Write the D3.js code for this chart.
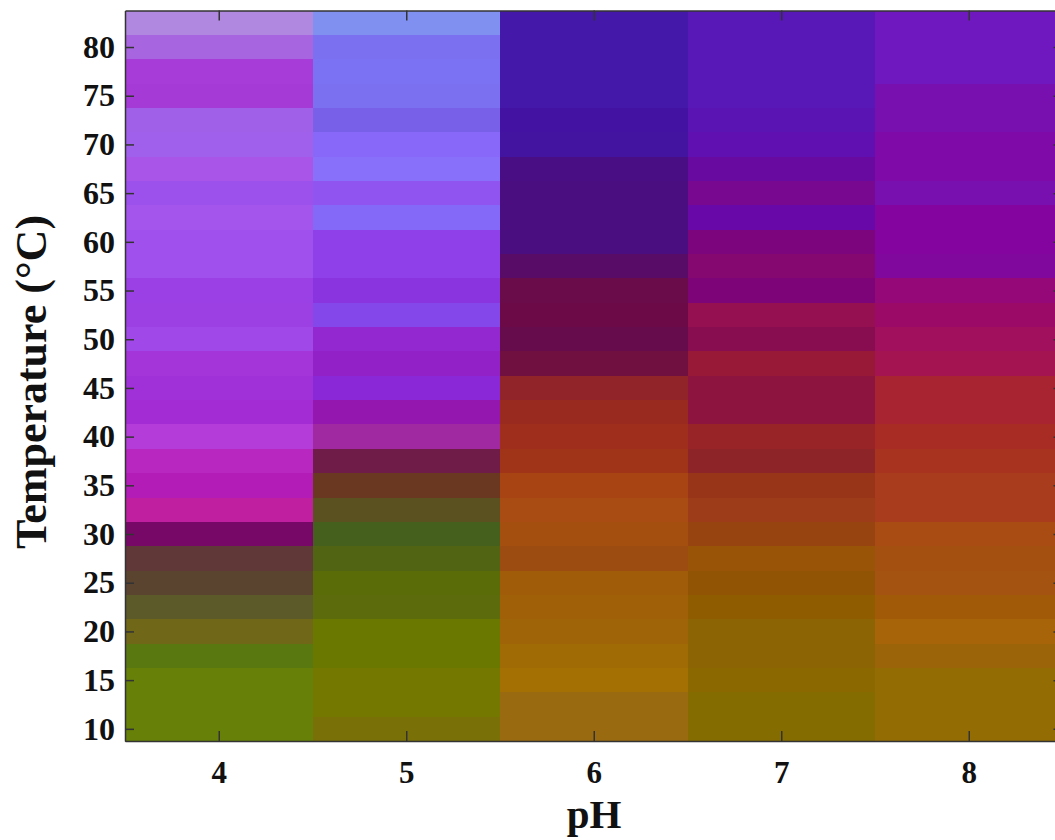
<!DOCTYPE html>
<html>
<head>
<meta charset="utf-8">
<script src="https://cdn.jsdelivr.net/npm/d3@7"></script>
<style>
  body { margin: 0; background: #fff; }
  text { font-family: "Liberation Serif", "Times New Roman", serif; font-weight: bold; fill: #111; }
</style>
</head>
<body>
<div id="chart"></div>
<script>
// pH columns and temperature rows (row centres, top to bottom)
var phLevels = [4, 5, 6, 7, 8];
var temps = [82.5, 80, 77.5, 75, 72.5, 70, 67.5, 65, 62.5, 60, 57.5, 55, 52.5, 50, 47.5,
             45, 42.5, 40, 37.5, 35, 32.5, 30, 27.5, 25, 22.5, 20, 17.5, 15, 12.5, 10];
var yTicks = [10, 15, 20, 25, 30, 35, 40, 45, 50, 55, 60, 65, 70, 75, 80];

// cell colours, one array per pH, same order as temps
var ph4Colors = ['#b088e0', '#a865e0', '#a83cd8', '#a63ad6', '#a060e8', '#a060ec', '#a855e8', '#9c50ec',
                 '#a455ec', '#a050ec', '#a050ec', '#9a40e4', '#9c40e4', '#a048e8', '#a435d8', '#a030d8',
                 '#a42cd4', '#b43cd8', '#b828c0', '#b41cb8', '#c020a0', '#780868', '#603838', '#5a4430',
                 '#5c5a28', '#706818', '#5a7810', '#668008', '#668008', '#668008'];
var ph5Colors = ['#8090f0', '#7a70f0', '#7a72f2', '#7a70f0', '#7860e8', '#8868f8', '#8870fa', '#9055f0',
                 '#8468f8', '#9040e8', '#9040e8', '#8a34e0', '#8448ea', '#9428d0', '#9222c8', '#8a28d8',
                 '#9418b0', '#a028a0', '#701c48', '#6a3820', '#5a5020', '#44601c', '#506414', '#5a6c08',
                 '#5c6c0c', '#6a7800', '#6a7800', '#747800', '#747800', '#7a7008'];
var ph6Colors = ['#4418a8', '#4418a8', '#4418a8', '#4418a8', '#4412a2', '#4214a0', '#4a0e84', '#4a0e80',
                 '#4a0e80', '#4a0e80', '#580c68', '#6a0c4a', '#6c0a48', '#660c4c', '#701040', '#902428',
                 '#982a20', '#a02e1c', '#a03418', '#a84414', '#a84c14', '#a44e10', '#9c4c10', '#a05c08',
                 '#a06008', '#a06408', '#a06a04', '#a47004', '#9a6a10', '#9a6a10'];
var ph7Colors = ['#5818b8', '#5818b8', '#5818b8', '#5818b8', '#5a14b4', '#6010b0', '#680aa0', '#780890',
                 '#6808a8', '#7c047c', '#840870', '#7c0478', '#941050', '#880c50', '#981838', '#8e1440',
                 '#8e1440', '#982428', '#8c2428', '#983418', '#9c3c18', '#984410', '#9a5408', '#905404',
                 '#905c00', '#8c6404', '#8c6404', '#8c6800', '#846c00', '#846c00'];
var ph8Colors = ['#7018c0', '#7018c0', '#7018c0', '#7810b0', '#7810b0', '#800aa8', '#800aa8', '#7810b0',
                 '#8404a0', '#8404a0', '#80089c', '#940878', '#9c0a68', '#a0105c', '#a41450', '#a82430',
                 '#a82430', '#a82c24', '#a83420', '#a83c1c', '#a83c1c', '#a84c14', '#a45010', '#a45410',
                 '#a05a08', '#a86408', '#9c6408', '#946c04', '#946c04', '#946c04'];
var columnColors = [ph4Colors, ph5Colors, ph6Colors, ph7Colors, ph8Colors];

var width = 1055, height = 840;
// plot box (note: "top" is taken by window.top)
var plotLeft = 125, plotRight = 1062.5, plotTop = 10.5, plotBottom = 741;

var x = d3.scaleLinear().domain([3.5, 8.5]).range([plotLeft, plotRight]);
var y = d3.scaleLinear().domain([8.75, 83.75]).range([plotBottom, plotTop]);

var svg = d3.select('#chart')
  .append('svg')
  .attr('width', width)
  .attr('height', height);

// flatten into cells
var cells = [];
phLevels.forEach(function(p, i) {
  temps.forEach(function(t, j) {
    cells.push({ ph: p, temp: t, color: columnColors[i][j] });
  });
});

svg.append('g')
  .attr('class', 'cells')
  .selectAll('rect')
  .data(cells)
  .enter()
  .append('rect')
  .attr('x', d => x(d.ph - 0.5))
  .attr('y', d => y(d.temp + 1.25))
  .attr('width', d => x(d.ph + 0.5) - x(d.ph - 0.5) + 0.5)
  .attr('height', d => y(d.temp - 1.25) - y(d.temp + 1.25) + 0.5)
  .attr('shape-rendering', 'crispEdges')
  .style('fill', d => d.color);

// axes, ticks pointing inward on all four sides
var axisColor = '#333';
var yAxis = svg.append('g')
  .attr('transform', 'translate(' + plotLeft + ',0)')
  .call(d3.axisLeft(y).tickValues(yTicks).tickSize(-9).tickSizeOuter(0).tickPadding(10));
yAxis.selectAll('text').style('font-size', '32px');

var xAxis = svg.append('g')
  .attr('transform', 'translate(0,' + plotBottom + ')')
  .call(d3.axisBottom(x).tickValues(phLevels).tickFormat(d3.format('d'))
    .tickSize(-10).tickSizeOuter(0).tickPadding(20));
xAxis.selectAll('text').style('font-size', '31px');

svg.append('g')
  .attr('transform', 'translate(0,' + plotTop + ')')
  .call(d3.axisTop(x).tickValues(phLevels).tickSize(-10).tickSizeOuter(0).tickFormat(''));

svg.append('g')
  .attr('transform', 'translate(' + plotRight + ',0)')
  .call(d3.axisRight(y).tickValues(yTicks).tickSize(-9).tickSizeOuter(0).tickFormat(''));

svg.selectAll('.domain, .tick line')
  .attr('stroke', axisColor)
  .attr('stroke-width', 1.5);

// axis titles
svg.append('text')
  .attr('transform', 'translate(46,382) rotate(-90)')
  .attr('text-anchor', 'middle')
  .style('font-size', '44px')
  .text('Temperature (°C)');

svg.append('text')
  .attr('x', 594)
  .attr('y', 828)
  .attr('text-anchor', 'middle')
  .style('font-size', '41px')
  .text('pH');
</script>
</body>
</html>
